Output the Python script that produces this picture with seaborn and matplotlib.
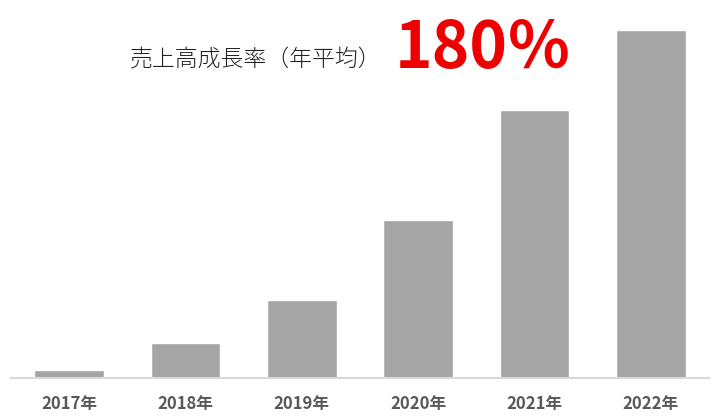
import numpy as np
import pandas as pd
import seaborn as sb
import matplotlib.pyplot as plt

# values (arbitrary units, bar heights)
years = ['2017年', '2018年', '2019年', '2020年', '2021年', '2022年']
sales = [8, 35, 78, 158, 268, 348]
title_text = '売上高成長率（年平均）'
growth_text = '180％'

sb.set_style('white')
plt.rcParams['font.family'] = ['Noto Sans CJK JP', 'DejaVu Sans']

df = pd.DataFrame({'year': years, 'sales': sales})

fig = plt.figure(figsize=(7.2, 4.17), dpi=100)
ax = fig.add_axes([11 / 720, 39 / 417, 698 / 720, 348 / 417])

sb.barplot(data=df, x='year', y='sales', color='#a5a5a5', saturation=1,
           width=0.6, ax=ax)

ax.set_xlim(-0.5, 5.5)
ax.set_ylim(0, 348)
ax.set_xlabel('')
ax.set_ylabel('')
ax.set_yticks([])
ax.tick_params(axis='x', length=0, pad=12, labelsize=12, labelcolor='#595959')
for lbl in ax.get_xticklabels():
    lbl.set_fontweight('bold')

for side in ['top', 'right', 'left']:
    ax.spines[side].set_visible(False)
ax.spines['bottom'].set_color('#d9d9d9')
ax.spines['bottom'].set_linewidth(1.5)
ax.set_zorder(0)

fig.text(130 / 720, 1 - 66 / 417, title_text, fontsize=16.5, color='#222222',
         fontweight='light', ha='left', va='baseline')
fig.text(395 / 720, 1 - 68 / 417, growth_text, fontsize=46, color='#ee0000',
         fontweight='bold', ha='left', va='baseline')

fig.savefig('out.png', dpi=100)
